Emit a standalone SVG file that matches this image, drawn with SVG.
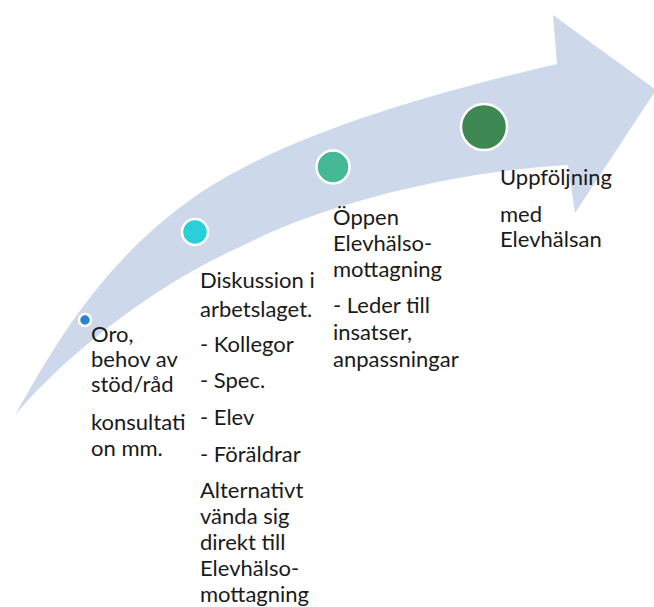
<svg xmlns="http://www.w3.org/2000/svg" width="654" height="607" viewBox="0 0 654 607">
<style>
.t{font-family:Lato,"Liberation Sans",sans-serif;font-size:22px;fill:#1a1a1a}
.dot{stroke:#ffffff;stroke-width:2.5}
</style>
<rect width="654" height="607" fill="#ffffff"/>
<g id="connectors">
<path d="M15,415 C55,345 100,265 190,200 C280,135 437,92 557,64 L553,15 L656,90 L575,213 L568,165 C450,172 320,205 240,247 C160,282 70,350 15,415 Z" fill="#cdd8ea"/>
</g>
<g id="step1">
<circle class="dot" cx="85" cy="320" r="6" fill="#2a84c9"/>
<text class="t"><tspan x="91" y="342">Oro,</tspan><tspan x="91" y="367">behov av</tspan><tspan x="91" y="392">stöd/råd</tspan><tspan x="91" y="430">konsultati</tspan><tspan x="91" y="456">on mm.</tspan></text>
</g>
<g id="step2">
<circle class="dot" cx="195" cy="232" r="13" fill="#2bcfd9"/>
<text class="t"><tspan x="200" y="288">Diskussion i</tspan><tspan x="200" y="317">arbetslaget.</tspan><tspan x="200" y="352">- Kollegor</tspan><tspan x="200" y="388">- Spec.</tspan><tspan x="200" y="425">- Elev</tspan><tspan x="200" y="462">- Föräldrar</tspan><tspan x="200" y="498">Alternativt</tspan><tspan x="200" y="524">vända sig</tspan><tspan x="200" y="550">direkt till</tspan><tspan x="200" y="576">Elevhälso-</tspan><tspan x="200" y="602">mottagning</tspan></text>
</g>
<g id="step3">
<circle class="dot" cx="333" cy="167" r="16.5" fill="#45b995"/>
<text class="t"><tspan x="333" y="225">Öppen</tspan><tspan x="333" y="251">Elevhälso-</tspan><tspan x="333" y="277">mottagning</tspan><tspan x="333" y="313">- Leder till</tspan><tspan x="333" y="340">insatser,</tspan><tspan x="333" y="367">anpassningar</tspan></text>
</g>
<g id="step4">
<circle class="dot" cx="484" cy="127" r="23" fill="#3e8853"/>
<text class="t"><tspan x="500" y="185">Uppföljning</tspan><tspan x="500" y="222">med</tspan><tspan x="500" y="247">Elevhälsan</tspan></text>
</g>
</svg>
